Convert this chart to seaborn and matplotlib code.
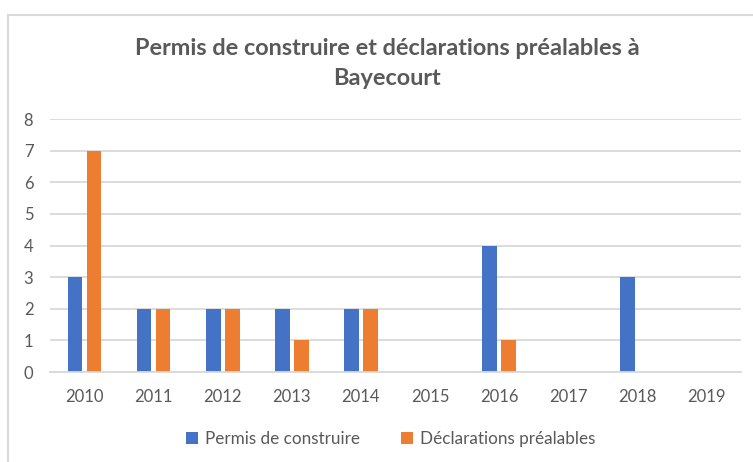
import matplotlib
matplotlib.use("Agg")
import matplotlib.pyplot as plt
from matplotlib.lines import Line2D
import seaborn as sns
import pandas as pd

years = ["2010", "2011", "2012", "2013", "2014", "2015", "2016", "2017", "2018", "2019"]
permis = [3, 2, 2, 2, 2, 0, 4, 0, 3, 0]
declarations = [7, 2, 2, 1, 2, 0, 1, 0, 0, 0]
series_names = ["Permis de construire", "Déclarations préalables"]
colors = ["#4472C4", "#ED7D31"]

df = pd.DataFrame({
    "Année": years * 2,
    "Nombre": permis + declarations,
    "Type": [series_names[0]] * len(years) + [series_names[1]] * len(years),
})

sns.set_theme(style="white")
plt.rcParams["font.family"] = ["Lato", "DejaVu Sans"]

grey = "#595959"
grid = "#D9D9D9"

fig = plt.figure(figsize=(7.53, 4.62), dpi=100)
ax = fig.add_axes([0.0664, 0.1948, 0.9176, 0.5476])

sns.barplot(data=df, x="Année", y="Nombre", hue="Type", order=years,
            hue_order=series_names, palette=colors, width=0.55, gap=0.23,
            linewidth=0, saturation=1, ax=ax)

handles, labels = ax.get_legend_handles_labels()
ax.get_legend().remove()

ax.set_ylim(0, 8)
ax.set_xlim(-0.5, len(years) - 0.5)
ax.set_yticks(range(0, 9))
ax.yaxis.grid(True, color=grid, linewidth=1.3)
ax.set_axisbelow(True)
for side in ["top", "right", "left"]:
    ax.spines[side].set_visible(False)
ax.spines["bottom"].set_color(grid)
ax.spines["bottom"].set_linewidth(1.3)
ax.set_xlabel("")
ax.set_ylabel("")
ax.tick_params(axis="both", length=0, labelsize=12, colors=grey)
ax.tick_params(axis="x", pad=12)
ax.tick_params(axis="y", pad=12)

fig.text(0.514, 0.896, "Permis de construire et déclarations préalables à",
         ha="center", va="center", fontsize=16.9, fontweight="bold", color=grey)
fig.text(0.514, 0.831, "Bayecourt",
         ha="center", va="center", fontsize=16.9, fontweight="bold", color=grey)

fig.legend(handles, labels, loc="center", bbox_to_anchor=(0.519, 0.050),
           ncol=2, frameon=False, fontsize=12.3, labelcolor=grey,
           handlelength=0.7, handleheight=0.7, handletextpad=0.4,
           columnspacing=2.4)

# chart frame (top and left edges)
fig.add_artist(Line2D([0.01, 1.0], [0.967, 0.967], transform=fig.transFigure,
                      color=grid, linewidth=1.5))
fig.add_artist(Line2D([0.01, 0.01], [0.0, 0.967], transform=fig.transFigure,
                      color=grid, linewidth=1.5))

fig.savefig("out.png", dpi=100)
